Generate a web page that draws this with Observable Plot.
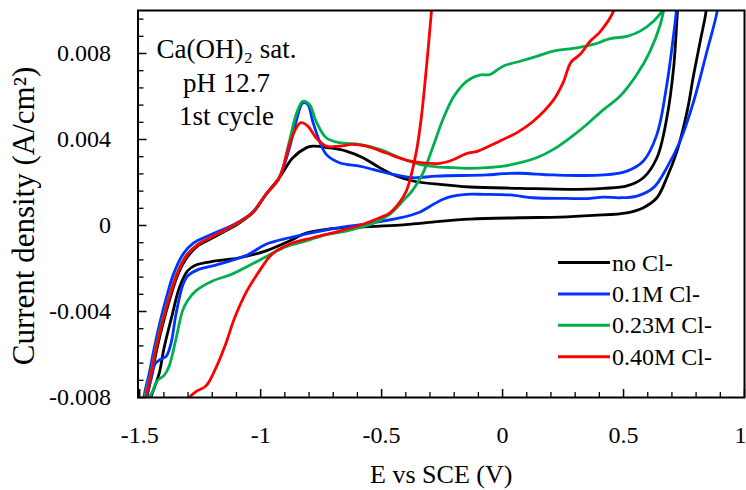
<!DOCTYPE html>
<html><head><meta charset="utf-8">
<script src="https://cdn.jsdelivr.net/npm/d3@7"></script>
<script src="https://cdn.jsdelivr.net/npm/@observablehq/plot@0.6"></script>
<style>
html,body{margin:0;padding:0;background:#fff;}
#chart{position:relative;width:746px;height:490px;}
</style></head><body><div id="chart"></div>
<script>
// ---- series ----
const seriesNames = ["no Cl-", "0.1M Cl-", "0.23M Cl-", "0.40M Cl-"];
const seriesColors = ["#000000", "#0033ff", "#00b050", "#ff0000"];

// no Cl- : forward (upper) branch then reverse (lower) branch
const noCl_E = [-1.465,-1.469,-1.449,-1.428,-1.401,-1.374,-1.341,-1.300,-1.260,-1.208,
  -1.154,-1.101,-1.033,-0.978,-0.923,-0.867,-0.812,-0.785,-0.715,-0.646,
  -0.577,-0.508,-0.439,-0.370,-0.260,-0.135,0.072,0.279,0.417,0.514,
  0.582,0.638,0.679,0.707,0.723,0.730,
  0.846,0.841,0.817,0.790,0.763,0.721,0.679,0.638,0.582,0.514,
  0.375,0.237,0.072,-0.135,-0.273,-0.343,-0.412,-0.550,-0.716,-0.812,
  -0.881,-0.978,-1.088,-1.185,-1.268,-1.302,-1.336,-1.365,-1.399,-1.420,
  -1.454,-1.463];
const noCl_I = [-0.0084,-0.0080,-0.0069,-0.0057,-0.00444,-0.00337,-0.00225,-0.00142,-0.00095,-0.00063,
  -0.0003,0.00002,0.00059,0.00145,0.00222,0.00315,0.00361,0.00369,0.00361,0.00346,
  0.00315,0.00269,0.0023,0.00207,0.00191,0.00179,0.00173,0.00168,0.00173,0.00184,
  0.00222,0.00315,0.00501,0.00733,0.00996,0.0109,
  0.0109,0.00996,0.00857,0.00702,0.00532,0.00346,0.00222,0.00129,0.00083,0.00059,
  0.00047,0.00039,0.00036,0.0003,0.00018,0.0001,0.00003,-0.00005,-0.00016,-0.00035,
  -0.00072,-0.00118,-0.0015,-0.00165,-0.00184,-0.00211,-0.00289,-0.00413,-0.00568,-0.0069,
  -0.0080,-0.0084];

// 0.1M Cl-
const cl010_E = [-1.477,-1.482,-1.461,-1.440,-1.415,-1.390,-1.360,-1.320,-1.277,-1.219,
  -1.161,-1.102,-1.033,-0.978,-0.923,-0.881,-0.853,-0.826,-0.805,-0.785,
  -0.757,-0.729,-0.674,-0.591,-0.536,-0.453,-0.370,-0.273,-0.066,0.002,
  0.072,0.210,0.417,0.514,0.582,0.638,0.679,0.707,0.718,0.722,
  0.896,0.887,0.845,0.790,0.734,0.679,0.624,0.555,0.486,0.417,
  0.348,0.265,0.127,0.030,-0.080,-0.149,-0.205,-0.246,-0.287,-0.343,
  -0.425,-0.563,-0.674,-0.785,-0.881,-0.978,-1.055,-1.185,-1.254,-1.302,
  -1.323,-1.350,-1.371,-1.391,-1.413,-1.436,-1.452,-1.471,-1.477];
const cl010_I = [-0.0084,-0.0080,-0.0069,-0.0057,-0.00444,-0.00337,-0.00225,-0.00132,-0.00081,-0.00049,
  -0.00021,0.00009,0.00063,0.00145,0.00222,0.00361,0.00485,0.0057,0.00563,0.00485,
  0.00393,0.00331,0.00292,0.00276,0.00261,0.00238,0.00222,0.0023,0.00235,0.00241,
  0.00243,0.00235,0.00235,0.00253,0.003,0.00424,0.00656,0.00888,0.00996,0.0109,
  0.0109,0.00996,0.00811,0.00578,0.00393,0.00269,0.00176,0.00137,0.00129,0.00132,
  0.00125,0.00126,0.00129,0.00142,0.00145,0.00145,0.00137,0.00122,0.00098,0.00062,
  0.00035,0.00008,-0.0001,-0.00033,-0.00057,-0.00087,-0.00137,-0.00184,-0.00203,-0.00235,
  -0.00281,-0.00413,-0.0055,-0.00609,-0.00622,-0.00643,-0.00708,-0.0080,-0.0084];

// 0.23M Cl-
const cl023_E = [-1.473,-1.478,-1.455,-1.434,-1.407,-1.380,-1.347,-1.306,-1.264,-1.213,
  -1.157,-1.102,-1.033,-0.978,-0.923,-0.881,-0.853,-0.826,-0.798,-0.771,
  -0.729,-0.674,-0.591,-0.508,-0.425,-0.343,-0.273,-0.205,-0.135,-0.066,
  0.002,0.072,0.141,0.210,0.279,0.348,0.417,0.486,0.555,0.610,
  0.652,0.665,0.668,
  0.624,0.569,0.514,0.445,0.375,0.307,0.210,0.141,0.072,0.002,
  -0.053,-0.090,-0.129,-0.163,-0.205,-0.246,-0.287,-0.329,-0.370,-0.412,
  -0.467,-0.536,-0.646,-0.729,-0.812,-0.895,-0.976,-1.116,-1.199,-1.268,
  -1.303,-1.323,-1.350,-1.378,-1.399,-1.427,-1.447,-1.459,-1.465];
const cl023_I = [-0.0084,-0.0080,-0.0069,-0.0057,-0.00444,-0.00337,-0.00225,-0.00137,-0.00091,-0.00058,
  -0.00028,0.00005,0.00059,0.00145,0.00222,0.00393,0.00517,0.00578,0.00563,0.00485,
  0.00408,0.00385,0.00377,0.00354,0.00315,0.00284,0.00273,0.00269,0.00266,0.00269,
  0.00276,0.00292,0.00315,0.00354,0.00408,0.0047,0.00539,0.00602,0.00702,0.00811,
  0.00935,0.00996,0.01006,
  0.0095,0.00904,0.0088,0.00869,0.00842,0.00826,0.00811,0.00787,0.00764,0.00741,
  0.00702,0.00701,0.00685,0.00656,0.00594,0.00495,0.00369,0.00244,0.00167,0.00114,
  0.00052,0.00009,-0.00026,-0.00042,-0.00072,-0.00098,-0.00144,-0.00225,-0.00258,-0.00304,
  -0.00351,-0.00397,-0.00527,-0.00653,-0.00697,-0.00722,-0.00773,-0.0080,-0.0084];

// 0.40M Cl-
const cl040_E = [-1.469,-1.473,-1.453,-1.432,-1.405,-1.378,-1.345,-1.304,-1.262,-1.211,
  -1.157,-1.102,-1.033,-0.978,-0.923,-0.881,-0.853,-0.833,-0.805,-0.771,
  -0.729,-0.674,-0.619,-0.563,-0.481,-0.398,-0.315,-0.260,-0.218,-0.149,
  -0.102,-0.011,0.058,0.127,0.210,0.250,0.283,0.320,0.362,0.403,
  0.458,0.473,
  -0.289,-0.294,-0.315,-0.336,-0.356,-0.377,-0.398,-0.425,-0.467,-0.508,
  -0.577,-0.674,-0.785,-0.881,-0.952,-1.005,-1.059,-1.109,-1.143,-1.185,
  -1.226,-1.268,-1.295,-1.308];
const cl040_I = [-0.0084,-0.0080,-0.0069,-0.0057,-0.00444,-0.00337,-0.00225,-0.00137,-0.00091,-0.00058,
  -0.00026,0.00007,0.00059,0.00145,0.00222,0.00377,0.00454,0.00478,0.00462,0.00408,
  0.00369,0.00369,0.00377,0.00369,0.00337,0.00304,0.0029,0.00289,0.003,0.00334,
  0.00346,0.00393,0.00431,0.00485,0.00583,0.00664,0.0076,0.00795,0.00857,0.00901,
  0.00996,0.0107,
  0.0107,0.00996,0.00733,0.00501,0.00346,0.00238,0.0016,0.00109,0.00058,0.00036,
  0.00006,-0.00026,-0.00057,-0.00087,-0.00132,-0.00211,-0.00309,-0.00434,-0.00546,-0.00662,
  -0.00746,-0.00773,-0.0080,-0.0084];

// ---- axes ----
const xMajorTicks = [-1.5, -1, -0.5, 0, 0.5, 1];
const xTickLabels = ["-1.5", "-1", "-0.5", "0", "0.5", "1"];
const xMinorTicks = [-1.4,-1.3,-1.2,-1.1,-0.9,-0.8,-0.7,-0.6,-0.4,-0.3,-0.2,-0.1,0.1,0.2,0.3,0.4,0.6,0.7,0.8,0.9];
const yMajorTicks = [-0.008, -0.004, 0, 0.004, 0.008];
const yTickLabels = ["-0.008", "-0.004", "0", "0.004", "0.008"];
const yMinorTicks = [-0.0072,-0.0064,-0.0056,-0.0048,-0.0032,-0.0024,-0.0016,-0.0008,0.0008,0.0016,0.0024,0.0032,0.0048,0.0056,0.0064,0.0072,0.0088,0.0096];
const xTitle = "E vs SCE (V)";
const yTitle = "Current density (A/cm²)";
const note = "Ca(OH)₂ sat.\npH 12.7\n1st cycle";

// ---- build table ----
const seriesData = [[noCl_E, noCl_I], [cl010_E, cl010_I], [cl023_E, cl023_I], [cl040_E, cl040_I]];
const rows = [];
seriesData.forEach(([E, I], k) => E.forEach((e, i) => rows.push({series: seriesNames[k], E: e, I: I[i]})));

const W = 746, H = 490, ML = 137.5, MR = 2, MT = 10, MB = 93;
const PW = W - ML - MR, PH = H - MT - MB;
const FONT = "'Liberation Serif', 'Times New Roman', serif";

const svg = Plot.plot({
  width: W, height: H,
  marginLeft: ML, marginRight: MR, marginTop: MT, marginBottom: MB,
  x: {domain: [-1.507, 1], axis: null},
  y: {domain: [-0.008, 0.01], axis: null},
  color: {domain: seriesNames, range: seriesColors},
  style: {fontFamily: FONT, background: "#fff", color: "#000"},
  marks: [
    Plot.tickY(yMinorTicks, {y: d => d, insetRight: PW - 6, stroke: "#000", strokeWidth: 1.3}),
    Plot.tickY(yMajorTicks, {y: d => d, insetRight: PW - 9, stroke: "#000", strokeWidth: 1.5}),
    Plot.tickX(xMinorTicks, {x: d => d, insetTop: PH - 5, stroke: "#000", strokeWidth: 1.3}),
    Plot.tickX(xMajorTicks, {x: d => d, insetTop: PH - 8, stroke: "#000", strokeWidth: 1.5}),
    Plot.line(rows, {x: "E", y: "I", z: "series", stroke: "series", strokeWidth: 2.8,
      curve: "catmull-rom", clip: true}),
    Plot.frame({stroke: "#000", strokeWidth: 2}),
    Plot.text(yMajorTicks, {y: d => d, text: (d, i) => yTickLabels[i], frameAnchor: "left",
      textAnchor: "end", dx: -27, fontSize: 24, fill: "#000"}),
    Plot.text(xMajorTicks.slice(0, -1), {x: d => d, text: (d, i) => xTickLabels[i], frameAnchor: "bottom",
      lineAnchor: "top", dy: 28, fontSize: 24, fill: "#000"}),
    Plot.text(xMajorTicks.slice(-1), {x: d => d, text: xTickLabels.slice(-1), frameAnchor: "bottom",
      lineAnchor: "top", textAnchor: "end", dx: 2, dy: 28, fontSize: 24, fill: "#000"}),
    Plot.text([xTitle], {frameAnchor: "bottom", lineAnchor: "top", dy: 67, fontSize: 26, fill: "#000"}),
    Plot.text([yTitle], {frameAnchor: "left", textAnchor: "middle", lineAnchor: "middle", rotate: -90,
      dx: -113.5, dy: 12, fontSize: 31, fill: "#000"}),
    Plot.text([note], {frameAnchor: "top-left", textAnchor: "middle", lineAnchor: "top",
      dx: 88.5, dy: 24, fontSize: 27, lineHeight: 1.24, fill: "#000"})
  ]
});

// legend (line swatches) drawn into the same SVG
const lg = d3.select(svg).append("g");
seriesNames.forEach((name, k) => {
  const y = 262.5 + k * 31.4;
  lg.append("line").attr("x1", 558).attr("x2", 610).attr("y1", y).attr("y2", y)
    .attr("stroke", seriesColors[k]).attr("stroke-width", 3);
  lg.append("text").attr("x", 612).attr("y", y + 8).attr("fill", "#000")
    .style("font-family", FONT).style("font-size", "24px")
    .attr("text-anchor", "start").text(name);
});

document.getElementById("chart").appendChild(svg);
</script></body></html>
